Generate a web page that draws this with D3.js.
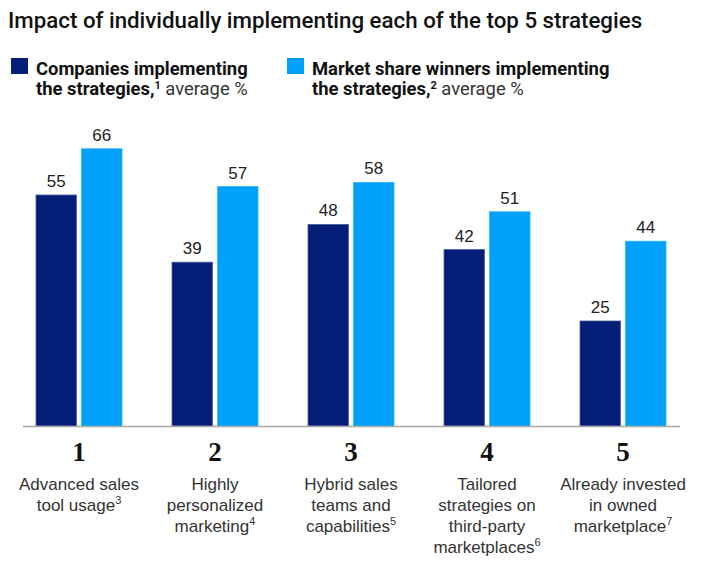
<!DOCTYPE html>
<html>
<head>
<meta charset="utf-8">
<script src="https://cdn.jsdelivr.net/npm/d3@7"></script>
<style>
  html, body { margin: 0; padding: 0; background: #fff; }
  svg { display: block; }
</style>
</head>
<body>
<svg id="chart" width="706" height="567"></svg>
<script>
// ---- data ----
const categories = ["1", "2", "3", "4", "5"];
const categoryLabels = [
  [["Advanced sales"], ["tool usage", "3"]],
  [["Highly"], ["personalized"], ["marketing", "4"]],
  [["Hybrid sales"], ["teams and"], ["capabilities", "5"]],
  [["Tailored"], ["strategies on"], ["third-party"], ["marketplaces", "6"]],
  [["Already invested"], ["in owned"], ["marketplace", "7"]]
];
const seriesNames = ["Companies implementing the strategies", "Market share winners implementing the strategies"];
const companiesValues = [55, 39, 48, 42, 25];
const winnersValues = [66, 57, 58, 51, 44];
const seriesColors = ["#051e79", "#00a1f8"];

const svg = d3.select("#chart");

// title
svg.append("text")
  .attr("x", 8).attr("y", 28)
  .attr("font-family", "Roboto, 'Liberation Sans', sans-serif")
  .attr("font-weight", 500)
  .attr("font-size", 22.3)
  .attr("fill", "#111")
  .text("Impact of individually implementing each of the top 5 strategies");

// legend
const legendItems = [
  {x: 11, line1: "Companies implementing", sup: "1", color: seriesColors[0]},
  {x: 287, line1: "Market share winners implementing", sup: "2", color: seriesColors[1]}
];
const lg = svg.append("g").attr("font-family", "Roboto, 'Liberation Sans', sans-serif");
legendItems.forEach(it => {
  lg.append("rect").attr("x", it.x).attr("y", 58).attr("width", 17).attr("height", 16).attr("fill", it.color);
  lg.append("text").attr("x", it.x + 25).attr("y", 75)
    .attr("font-size", 18.4).attr("font-weight", 700).attr("fill", "#111").text(it.line1);
  const t = lg.append("text").attr("x", it.x + 25).attr("y", 95).attr("font-size", 18.4).attr("fill", "#111");
  t.append("tspan").attr("font-weight", 700).text("the strategies,");
  t.append("tspan").attr("font-weight", 700).attr("font-size", 11).attr("dy", -6).text(it.sup);
  t.append("tspan").attr("font-weight", 400).attr("fill", "#333").attr("dy", 6).text(" average %");
});

// scales
const baseline = 426;
const x0 = d3.scaleBand().domain(categories).range([11, 691]).paddingInner(50 / 136).paddingOuter(25 / 136);
const x1 = d3.scaleBand().domain([0, 1]).range([0, x0.bandwidth()]).paddingInner(0.11);
const y = d3.scaleLinear().domain([0, 100]).range([baseline, baseline - 420]);

const groups = svg.append("g").selectAll("g")
  .data(categories.map((c, i) => ({c, vals: [companiesValues[i], winnersValues[i]]})))
  .join("g")
  .attr("transform", d => `translate(${x0(d.c)},0)`);

groups.selectAll("rect")
  .data(d => d.vals.map((v, s) => ({v, s})))
  .join("rect")
  .attr("x", d => x1(d.s))
  .attr("y", d => y(d.v))
  .attr("width", x1.bandwidth())
  .attr("height", d => y(0) - y(d.v))
  .attr("fill", d => seriesColors[d.s])
  .attr("stroke", d => d.s === 0 ? "#4a5b98" : "#2fb2fa")
  .attr("stroke-width", 0.8);

groups.selectAll("text.val")
  .data(d => d.vals.map((v, s) => ({v, s})))
  .join("text")
  .attr("class", "val")
  .attr("x", d => x1(d.s) + x1.bandwidth() / 2)
  .attr("y", d => y(d.v) - 8)
  .attr("text-anchor", "middle")
  .attr("font-family", "'Liberation Sans', Arial, sans-serif")
  .attr("font-size", 17)
  .attr("fill", "#222")
  .text(d => d.v);

// axis line
svg.append("line")
  .attr("x1", 23).attr("x2", 680)
  .attr("y1", baseline + 0.5).attr("y2", baseline + 0.5)
  .attr("stroke", "#a8a8a8").attr("stroke-width", 1.5);

// category numbers via axis
const axis = d3.axisBottom(x0).tickSize(0).tickPadding(0);
const ag = svg.append("g").attr("transform", `translate(0,${baseline})`).call(axis);
ag.select(".domain").remove();
ag.selectAll(".tick text")
  .attr("y", 35)
  .attr("dy", 0)
  .attr("font-family", "'Liberation Serif', 'DejaVu Serif', serif")
  .attr("font-weight", 700)
  .attr("font-size", 27)
  .attr("fill", "#111");

// category labels
const cl = svg.append("g")
  .attr("font-family", "'Liberation Sans', Arial, sans-serif")
  .attr("font-size", 17)
  .attr("fill", "#333")
  .attr("text-anchor", "middle");
categories.forEach((c, i) => {
  const cx = x0(c) + x0.bandwidth() / 2;
  categoryLabels[i].forEach((ln, j) => {
    const t = cl.append("text").attr("x", cx).attr("y", 490 + j * 21);
    t.append("tspan").text(ln[0]);
    if (ln[1]) t.append("tspan").attr("font-size", 11).attr("dy", -7).text(ln[1]);
  });
});
</script>
</body>
</html>
